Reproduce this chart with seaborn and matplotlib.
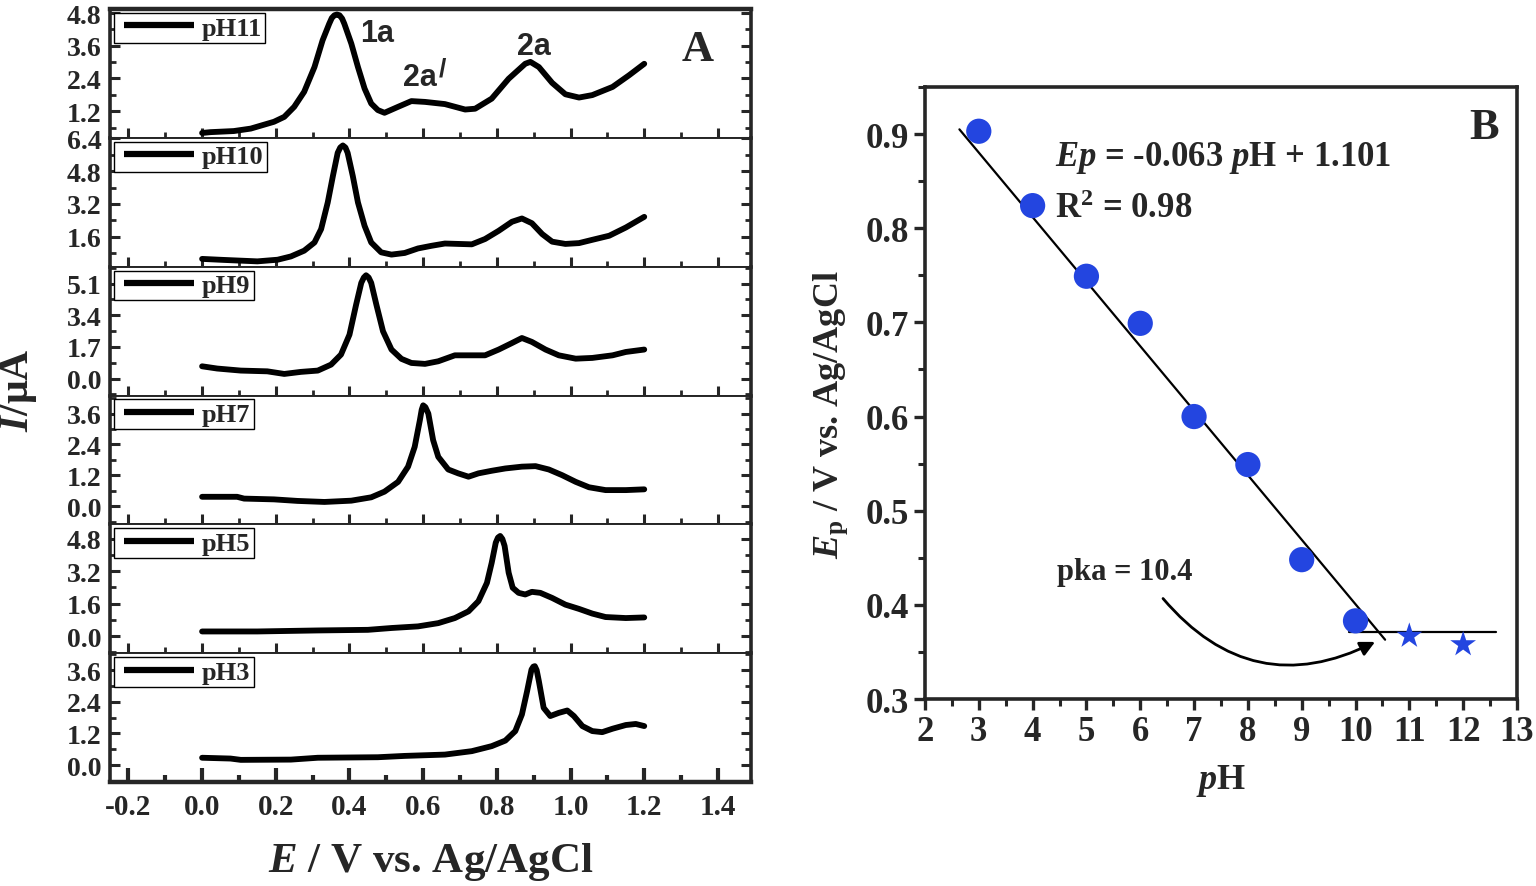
import matplotlib
matplotlib.use("Agg")
import matplotlib.pyplot as plt
from matplotlib.ticker import MultipleLocator, FormatStrFormatter
from matplotlib.lines import Line2D
from matplotlib.legend_handler import HandlerLine2D
import seaborn as sns

# --- data ---
# panel A: DPV curves, E (V vs Ag/AgCl) and I (uA)
E_PH11 = [0.000, 0.023, 0.086, 0.132, 0.195, 0.223, 0.250, 0.277, 0.305, 0.327, 0.345, 0.352, 0.359,
          0.366, 0.373, 0.380, 0.386, 0.405, 0.423, 0.441, 0.459, 0.477, 0.495, 0.532, 0.568, 0.605,
          0.659, 0.714, 0.741, 0.786, 0.832, 0.877, 0.891, 0.914, 0.950, 0.986, 1.023, 1.059, 1.114,
          1.159, 1.200]
I_PH11 = [0.40, 0.43, 0.47, 0.56, 0.81, 0.99, 1.36, 1.91, 2.82, 3.80, 4.41, 4.62, 4.72,
          4.75, 4.72, 4.60, 4.41, 3.68, 2.82, 2.03, 1.48, 1.24, 1.14, 1.36, 1.57, 1.54,
          1.46, 1.26, 1.29, 1.66, 2.39, 2.94, 3.01, 2.82, 2.24, 1.82, 1.70, 1.79, 2.09,
          2.52, 2.94]

E_PH10 = [0.000, 0.059, 0.150, 0.205, 0.241, 0.277, 0.305, 0.323, 0.341, 0.355, 0.368, 0.375, 0.382,
          0.389, 0.395, 0.409, 0.423, 0.441, 0.459, 0.486, 0.514, 0.550, 0.586, 0.623, 0.659, 0.695,
          0.732, 0.768, 0.805, 0.841, 0.868, 0.895, 0.923, 0.950, 0.986, 1.023, 1.059, 1.105, 1.150,
          1.200]
I_PH10 = [0.52, 0.47, 0.40, 0.48, 0.64, 0.92, 1.32, 1.97, 3.27, 4.56, 5.69, 5.95, 6.05,
          5.95, 5.69, 4.56, 3.27, 2.13, 1.32, 0.84, 0.73, 0.81, 1.03, 1.16, 1.27, 1.25,
          1.23, 1.49, 1.89, 2.33, 2.49, 2.26, 1.73, 1.36, 1.25, 1.29, 1.45, 1.65, 2.05,
          2.57]

E_PH9 = [0.000, 0.041, 0.105, 0.177, 0.223, 0.268, 0.314, 0.350, 0.377, 0.400, 0.418, 0.432, 0.439,
         0.445, 0.452, 0.459, 0.473, 0.491, 0.514, 0.541, 0.568, 0.605, 0.641, 0.686, 0.723, 0.768,
         0.805, 0.841, 0.868, 0.895, 0.932, 0.968, 1.014, 1.059, 1.114, 1.150, 1.200]
I_PH9 = [0.66, 0.54, 0.43, 0.39, 0.25, 0.36, 0.43, 0.75, 1.29, 2.36, 3.97, 5.14, 5.43,
         5.55, 5.43, 5.14, 3.97, 2.54, 1.56, 1.06, 0.84, 0.79, 0.93, 1.25, 1.25, 1.25,
         1.56, 1.91, 2.18, 1.97, 1.56, 1.25, 1.07, 1.11, 1.25, 1.43, 1.56]

E_PH7 = [0.000, 0.095, 0.114, 0.195, 0.259, 0.332, 0.405, 0.459, 0.495, 0.532, 0.559, 0.577, 0.591,
         0.596, 0.600, 0.606, 0.614, 0.627, 0.641, 0.668, 0.695, 0.723, 0.750, 0.786, 0.823, 0.868,
         0.905, 0.941, 0.977, 1.014, 1.050, 1.095, 1.150, 1.200]
I_PH7 = [0.37, 0.37, 0.30, 0.27, 0.21, 0.17, 0.22, 0.35, 0.57, 0.95, 1.54, 2.31, 3.34,
         3.75, 3.92, 3.85, 3.60, 2.57, 1.92, 1.43, 1.28, 1.15, 1.28, 1.38, 1.47, 1.54,
         1.56, 1.43, 1.21, 0.95, 0.74, 0.63, 0.63, 0.66]

E_PH5 = [0.000, 0.150, 0.314, 0.450, 0.514, 0.586, 0.641, 0.686, 0.723, 0.750, 0.773, 0.786, 0.797,
         0.803, 0.809, 0.815, 0.821, 0.832, 0.843, 0.859, 0.877, 0.895, 0.918, 0.950, 0.986, 1.023,
         1.059, 1.095, 1.150, 1.200]
I_PH5 = [0.23, 0.23, 0.28, 0.31, 0.40, 0.48, 0.64, 0.89, 1.22, 1.72, 2.62, 3.61, 4.60,
         4.85, 4.93, 4.78, 4.44, 3.12, 2.38, 2.13, 2.05, 2.18, 2.13, 1.88, 1.55, 1.34,
         1.11, 0.94, 0.89, 0.92]

E_PH3 = [0.000, 0.077, 0.105, 0.241, 0.314, 0.477, 0.550, 0.659, 0.732, 0.786, 0.823, 0.850, 0.868,
         0.882, 0.894, 0.899, 0.903, 0.908, 0.914, 0.927, 0.945, 0.968, 0.991, 1.009, 1.032, 1.059,
         1.086, 1.114, 1.150, 1.177, 1.200]
I_PH3 = [0.28, 0.25, 0.20, 0.21, 0.28, 0.30, 0.35, 0.40, 0.53, 0.72, 0.93, 1.29, 1.92,
         2.80, 3.62, 3.73, 3.75, 3.60, 3.18, 2.17, 1.86, 1.98, 2.07, 1.86, 1.48, 1.29,
         1.25, 1.38, 1.52, 1.56, 1.48]

CURVE_LABELS = ["pH11", "pH10", "pH9", "pH7", "pH5", "pH3"]
CURVES_E = [E_PH11, E_PH10, E_PH9, E_PH7, E_PH5, E_PH3]
CURVES_I = [I_PH11, I_PH10, I_PH9, I_PH7, I_PH5, I_PH3]

# per-panel y ranges / tick steps (as seen on the figure)
Y_LIMS = [(0.22, 4.95), (0.14, 6.42), (-0.91, 6.01), (-0.70, 4.30), (-0.84, 5.50), (-0.64, 4.24)]
Y_STEPS = [1.2, 1.6, 1.7, 1.2, 1.6, 1.2]

# panel B: peak potential vs pH
PH_LINEAR = [3, 4, 5, 6, 7, 8, 9, 10]
EP_LINEAR = [0.903, 0.824, 0.749, 0.699, 0.600, 0.549, 0.448, 0.383]
PH_FLAT = [11, 12]
EP_FLAT = [0.367, 0.358]
FIT_PH = [2.64, 10.55]
FIT_EP = [0.905, 0.363]
FLAT_PH = [9.87, 12.61]
FLAT_EP = [0.371, 0.371]

# --- style ---
sns.set_style("ticks")
plt.rcParams['font.family'] = ['Liberation Serif', 'DejaVu Serif']
plt.rcParams['font.weight'] = 'bold'
plt.rcParams['axes.labelweight'] = 'bold'
plt.rcParams['axes.unicode_minus'] = False
plt.rcParams['mathtext.fontset'] = 'custom'
plt.rcParams['mathtext.rm'] = 'Liberation Serif:bold'
plt.rcParams['mathtext.it'] = 'Liberation Serif:italic:bold'
plt.rcParams['mathtext.bf'] = 'Liberation Serif:bold'

fig = plt.figure(figsize=(15.36, 8.87), dpi=100)

# --- panel A ---
gs = fig.add_gridspec(6, 1, left=0.0716, right=0.489, bottom=0.1172, top=0.9887, hspace=0)
axes_a = []
for k in range(6):
    ax = fig.add_subplot(gs[k, 0])
    sns.lineplot(x=CURVES_E[k], y=CURVES_I[k], ax=ax, color='black', lw=4.2,
                 label=CURVE_LABELS[k], sort=False, estimator=None,
                 solid_joinstyle='round', solid_capstyle='round')
    ax.set_xlim(-0.25, 1.49)
    ax.set_ylim(*Y_LIMS[k])
    ax.xaxis.set_major_locator(MultipleLocator(0.2))
    ax.xaxis.set_minor_locator(MultipleLocator(0.1))
    ax.yaxis.set_major_locator(MultipleLocator(Y_STEPS[k]))
    ax.yaxis.set_minor_locator(MultipleLocator(Y_STEPS[k] / 2))
    ax.yaxis.set_major_formatter(FormatStrFormatter('%.1f'))
    ax.xaxis.set_major_formatter(FormatStrFormatter('%.1f'))
    ax.tick_params(which='both', direction='in', left=True, right=True, top=False, bottom=True,
                   labelsize=20)
    ax.tick_params(which='major', length=7, width=2.2)
    ax.tick_params(which='minor', length=4, width=2.0)
    ax.tick_params(axis='y', pad=6)
    ax.set_xlabel('')
    ax.set_ylabel('')
    for side in ['left', 'right']:
        ax.spines[side].set_linewidth(2.6)
    ax.spines['top'].set_linewidth(3.2 if k == 0 else 1.4)
    ax.spines['bottom'].set_linewidth(3.2 if k == 5 else 1.4)
    if k < 5:
        ax.tick_params(axis='x', labelbottom=False)
    else:
        ax.tick_params(axis='x', labelsize=21, pad=8)
        ax.tick_params(axis='x', which='major', length=10, width=3)
        ax.tick_params(axis='x', which='minor', length=5, width=3)
    leg = ax.legend(loc='upper left', handlelength=2.9, handletextpad=0.32, borderpad=0.12,
                    borderaxespad=0.15, fancybox=False, framealpha=1, edgecolor='black',
                    prop=dict(family='Liberation Serif', weight='bold', size=19),
                    handler_map={Line2D: HandlerLine2D(xpad=0.27)})
    leg.get_frame().set_linewidth(1.0)
    for h in leg.get_lines():
        h.set_linewidth(4.5)
        h.set_solid_capstyle('butt')
    axes_a.append(ax)

ax0 = axes_a[0]
sans = dict(family='Liberation Sans', weight='bold', ha='center', va='center')
ax0.text(0.475, 4.07, '1a', fontsize=22, **sans)
ax0.text(0.592, 2.45, '2a', fontsize=22, **sans)
ax0.text(0.652, 2.78, '/', fontsize=19, **sans)
ax0.text(0.900, 3.59, '2a', fontsize=22, **sans)
ax0.text(1.345, 3.48, 'A', fontsize=32, weight='bold', ha='center', va='center')

axes_a[-1].set_xlabel('$E$ / V vs. Ag/AgCl', fontsize=31, labelpad=14)
fig.text(0.012, 0.56, '$I$/μA', rotation=90, fontsize=30, weight='bold', ha='center', va='center')

# --- panel B ---
axb = fig.add_axes([0.6022, 0.2108, 0.3854, 0.690])
sns.lineplot(x=FIT_PH, y=FIT_EP, ax=axb, color='black', lw=1.6, sort=False, estimator=None)
sns.lineplot(x=FLAT_PH, y=FLAT_EP, ax=axb, color='black', lw=1.6, sort=False, estimator=None)
sns.scatterplot(x=PH_LINEAR, y=EP_LINEAR, ax=axb, color='#2345e0', s=330, marker='o',
                edgecolor='none', zorder=3)
sns.scatterplot(x=PH_FLAT, y=EP_FLAT, ax=axb, color='#2345e0', s=380, marker='*',
                edgecolor='none', zorder=3)
axb.set_xlim(2, 13)
axb.set_ylim(0.3, 0.95)
axb.xaxis.set_major_locator(MultipleLocator(1))
axb.xaxis.set_minor_locator(MultipleLocator(0.5))
axb.yaxis.set_major_locator(MultipleLocator(0.1))
axb.yaxis.set_minor_locator(MultipleLocator(0.05))
axb.yaxis.set_major_formatter(FormatStrFormatter('%.1f'))
axb.tick_params(which='both', direction='out', top=False, right=False, labelsize=25)
axb.tick_params(which='major', length=8, width=2.4)
axb.tick_params(which='minor', length=5, width=2.2)
for side in axb.spines:
    axb.spines[side].set_linewidth(2.6)
axb.set_xlabel('$p$H', fontsize=26, labelpad=10)
axb.set_ylabel('$E_{\\mathrm{p}}$ / V vs. Ag/AgCl', fontsize=26)
axb.yaxis.set_label_coords(-0.127, 0.466)

axb.text(4.42, 0.876, '$Ep$ = -0.063 $p$H + 1.101', fontsize=25, weight='bold', va='center')
axb.text(4.42, 0.821, 'R$^{\\mathrm{2}}$ = 0.98', fontsize=25, weight='bold', va='center')
axb.text(4.45, 0.435, 'pka = 10.4', fontsize=22, weight='bold', va='center')
axb.text(0.945, 0.934, 'B', transform=axb.transAxes, fontsize=32, weight='bold', ha='center', va='center')
axb.annotate('', xy=(10.41, 0.362), xytext=(6.39, 0.409),
             arrowprops=dict(arrowstyle='-|>', color='black', lw=2.0, mutation_scale=22,
                             connectionstyle='arc3,rad=0.4'))

plt.savefig('out.png', dpi=100)
plt.close()
